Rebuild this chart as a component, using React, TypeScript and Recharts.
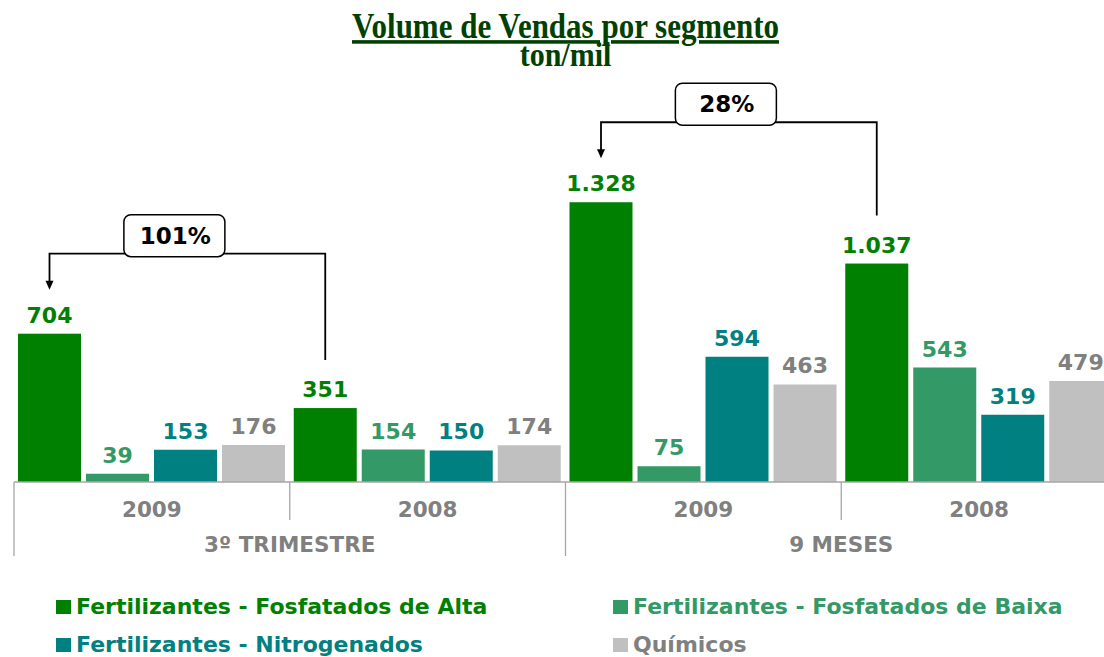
import { Bar, BarChart, LabelList, XAxis, YAxis } from "recharts";

const periods = ["3º TRIMESTRE", "9 MESES"];
const years = ["2009", "2008", "2009", "2008"];
const altaValues = [704, 351, 1328, 1037];
const baixaValues = [39, 154, 75, 543];
const nitroValues = [153, 150, 594, 319];
const quimicosValues = [176, 174, 463, 479];
const growthLabels = ["101%", "28%"];

const series = [
  { key: "alta", name: "Fertilizantes - Fosfatados de Alta", color: "#008000", text: "#008000" },
  { key: "baixa", name: "Fertilizantes - Fosfatados de Baixa", color: "#339966", text: "#339966" },
  { key: "nitro", name: "Fertilizantes - Nitrogenados", color: "#008080", text: "#008080" },
  { key: "quimicos", name: "Químicos", color: "#C0C0C0", text: "#808080" },
];

const data = years.map((year, i) => ({
  id: `${periods[Math.floor(i / 2)]} ${year}`,
  year,
  alta: altaValues[i],
  baixa: baixaValues[i],
  nitro: nitroValues[i],
  quimicos: quimicosValues[i],
}));

const CHART_W = 1120;
const CHART_H = 560;
const MARGIN = { top: 166, right: 3, bottom: 0, left: 14 };
const AXIS_H = 78;
const BASE_Y = CHART_H - MARGIN.bottom - AXIS_H;
const BAND = (CHART_W - MARGIN.left - MARGIN.right) / years.length;
const AXIS_COLOR = "#a6a6a6";
const FONT = "DejaVu Sans, Verdana, sans-serif";
const SERIF = "Liberation Serif, Times New Roman, serif";

// 1.328 style thousands separator
const fmt = (v: any) => {
  const n = Number(v);
  if (n < 1000) return String(n);
  return `${Math.floor(n / 1000)}.${String(n % 1000).padStart(3, "0")}`;
};

// dark green bars also carry the growth bracket (2009 vs 2008)
function AltaBar(props: any) {
  const { x, y, width, height, fill, index } = props;
  const bar = <rect x={x} y={y} width={width} height={height} fill={fill} />;
  if (index % 2 !== 0) return bar;
  const cur = altaValues[index];
  const next = altaValues[index + 1];
  const base = y + height;
  const nextTop = base - (height * next) / cur;
  const x1 = x + width / 2;
  const x2 = x1 + BAND;
  const lineY = Math.min(y, nextTop) - 80;
  const tipY = y - 44;
  const endY = nextTop - 48;
  const boxW = 101;
  const boxH = 42;
  const boxCx = (x1 + x2) / 2 - 13;
  const boxTop = lineY + 3 - boxH;
  return (
    <g>
      {bar}
      <polyline
        points={`${x1},${tipY - 6} ${x1},${lineY} ${x2},${lineY} ${x2},${endY}`}
        fill="none"
        stroke="#000"
        strokeWidth={1.8}
      />
      <polygon points={`${x1 - 4},${tipY - 9} ${x1 + 4},${tipY - 9} ${x1},${tipY}`} fill="#000" />
      <rect x={boxCx - boxW / 2} y={boxTop} width={boxW} height={boxH} rx={7} fill="#fff" stroke="#000" strokeWidth={1.5} />
      <text
        x={boxCx + 1}
        y={boxTop + boxH / 2 + 8}
        textAnchor="middle"
        fontFamily={FONT}
        fontWeight="bold"
        fontSize={23}
        fill="#000"
      >
        {growthLabels[index / 2]}
      </text>
    </g>
  );
}

function YearTick(props: any) {
  const { x, index } = props;
  const half = BAND / 2;
  const first = index % 2 === 0;
  const last = index === years.length - 1;
  return (
    <g>
      <line x1={x - half} x2={x - half} y1={BASE_Y} y2={BASE_Y + (first ? 74 : 38)} stroke={AXIS_COLOR} strokeWidth={1.3} />
      {last && <line x1={x + half} x2={x + half} y1={BASE_Y} y2={BASE_Y + 74} stroke={AXIS_COLOR} strokeWidth={1.3} />}
      <text x={x} y={517} textAnchor="middle" fontFamily={FONT} fontWeight="bold" fontSize={21.5} fill="#808080">
        {years[index]}
      </text>
      {first && (
        <text x={x + half} y={552} textAnchor="middle" fontFamily={FONT} fontWeight="bold" fontSize={21.5} fill="#808080">
          {periods[index / 2]}
        </text>
      )}
    </g>
  );
}

export default function App() {
  return (
    <div style={{ position: "absolute", left: 0, top: 0, width: 1104, height: 657, overflow: "hidden", background: "#fff" }}>
      <div style={{ position: "absolute", left: 0, top: 0 }}>
        <BarChart width={CHART_W} height={CHART_H} data={data} margin={MARGIN} barGap={5}>
          <XAxis
            dataKey="id"
            height={AXIS_H}
            interval={0}
            tickLine={false}
            axisLine={{ stroke: AXIS_COLOR, strokeWidth: 1.5 }}
            tick={<YearTick />}
          />
          <YAxis hide domain={[0, 1500]} />
          {series.map((s) => (
            <Bar
              key={s.key}
              dataKey={s.key}
              name={s.name}
              fill={s.color}
              barSize={63}
              isAnimationActive={false}
              shape={s.key === "alta" ? <AltaBar /> : undefined}
            >
              <LabelList
                dataKey={s.key}
                position="top"
                offset={11}
                formatter={fmt}
                fill={s.text}
                fontSize={22}
                fontWeight="bold"
                fontFamily={FONT}
              />
            </Bar>
          ))}
        </BarChart>
      </div>
      <svg width={1104} height={657} style={{ position: "absolute", left: 0, top: 0, pointerEvents: "none" }}>
        <g transform="translate(565.5, 38) scale(1, 1.15)">
          <text
            x={0}
            y={0}
            textAnchor="middle"
            fontFamily={SERIF}
            fontWeight="bold"
            fontSize={31}
            fill="#004000"
            textDecoration="underline"
          >
            Volume de Vendas por segmento
          </text>
        </g>
        <g transform="translate(565.5, 66) scale(1, 1.1)">
          <text x={0} y={0} textAnchor="middle" fontFamily={SERIF} fontWeight="bold" fontSize={30} fill="#004000">
            ton/mil
          </text>
        </g>
        {series.map((s, i) => {
          const lx = i % 2 === 0 ? 56 : 613;
          const ly = i < 2 ? 600 : 638;
          return (
            <g key={s.key}>
              <rect x={lx} y={ly} width={15} height={14} fill={s.color} />
              <text x={lx + 20} y={ly + 14} fontFamily={FONT} fontWeight="bold" fontSize={22} fill={s.text}>
                {s.name}
              </text>
            </g>
          );
        })}
      </svg>
    </div>
  );
}
